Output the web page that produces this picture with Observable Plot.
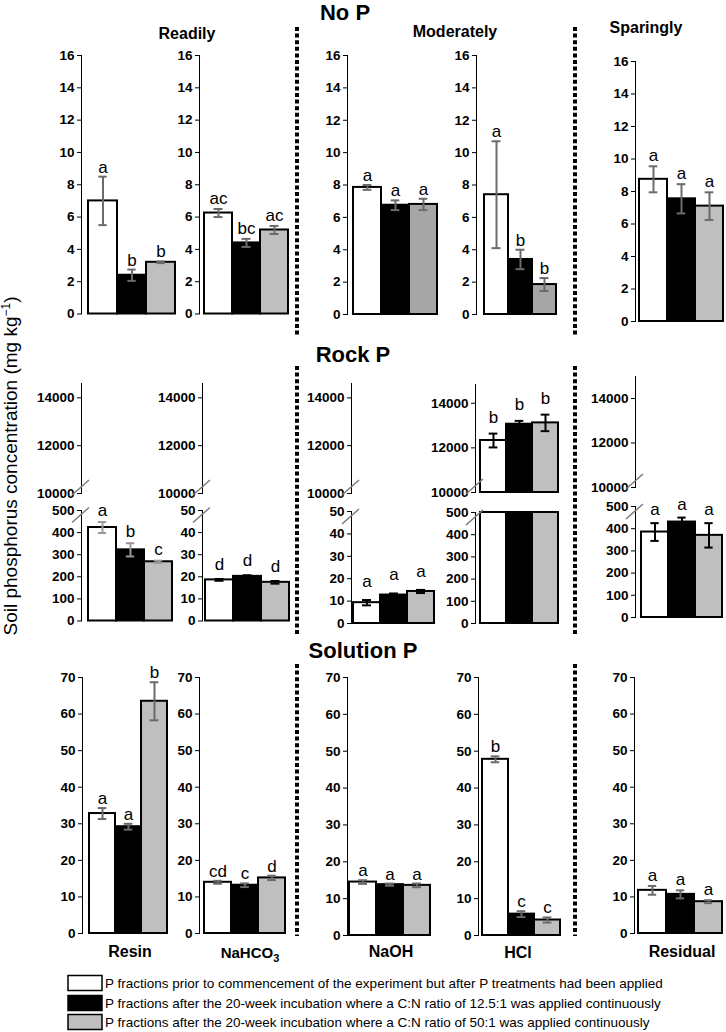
<!DOCTYPE html>
<html><head><meta charset="utf-8">
<script src="https://cdn.jsdelivr.net/npm/d3@7"></script>
<script src="https://cdn.jsdelivr.net/npm/@observablehq/plot@0.6"></script>
<style>
body{margin:0;background:#fff;}
#fig{position:relative;width:726px;height:1032px;overflow:hidden;background:#fff;}
#fig svg{position:absolute;overflow:visible;}
g[aria-label="y-axis tick label"]{font-weight:bold;}
</style></head><body><div id="fig"></div>
<script>
// ---------- data ----------
const treatments = ["Initial", "C:N 12.5:1", "C:N 50:1"];
const fractions = ["Resin", "NaHCO3", "NaOH", "HCl", "Residual"];
const rowTitles = ["No P", "Rock P", "Solution P"];
const groupTitles = ["Readily", "Moderately", "Sparingly"];
const legendLabels = [
  "P fractions prior to commencement of the experiment but after P treatments had been applied",
  "P fractions after the 20-week incubation where a C:N ratio of 12.5:1 was applied continuously",
  "P fractions after the 20-week incubation where a C:N ratio of 50:1 was applied continuously"
];
const yTitle = "Soil phosphorus concentration (mg kg";

const noPMeans = [[7.0, 2.4, 3.2], [6.25, 4.4, 5.2], [7.85, 6.75, 6.8], [7.4, 3.4, 1.85], [8.75, 7.55, 7.1]];
const noPErrors = [[1.5, 0.35, 0.05], [0.25, 0.25, 0.25], [0.15, 0.3, 0.35], [3.3, 0.6, 0.4], [0.8, 0.9, 0.85]];
const noPLetters = [["a", "b", "b"], ["ac", "bc", "ac"], ["a", "a", "a"], ["a", "b", "b"], ["a", "a", "a"]];

const rockPMeans = [[423, 322, 268], [18.6, 20.2, 17.5], [9.3, 12.7, 14.3], [12330, 13060, 13120], [385, 430, 370]];
const rockPErrors = [[25, 30, 5], [0.4, 0.5, 0.6], [1.2, 0.7, 0.7], [310, 150, 370], [40, 20, 55]];
const rockPLetters = [["a", "b", "c"], ["d", "d", "d"], ["a", "a", "a"], ["b", "b", "b"], ["a", "a", "a"]];

const solPMeans = [[32.8, 29.2, 63.5], [14.0, 13.2, 15.2], [14.5, 13.8, 13.6], [47.8, 5.8, 4.2], [11.8, 10.7, 8.7]];
const solPErrors = [[1.5, 0.8, 5.2], [0.4, 0.5, 0.6], [0.5, 0.3, 0.5], [0.8, 0.8, 0.7], [1.2, 1.1, 0.4]];
const solPLetters = [["a", "a", "b"], ["cd", "c", "d"], ["a", "a", "a"], ["b", "c", "c"], ["a", "a", "a"]];

const ticksNoP = [0, 2, 4, 6, 8, 10, 12, 14, 16];
const ticksSol = [0, 10, 20, 30, 40, 50, 60, 70];
const ticksRockUpper = [10000, 12000, 14000];
const ticksRock500 = [0, 100, 200, 300, 400, 500];
const ticksRock50 = [0, 10, 20, 30, 40, 50];

// ---------- rendering ----------
const FONT = '"Liberation Sans", Arial, Helvetica, sans-serif';
const fig = document.getElementById("fig");

function makeData(means, errs, letters) {
  return treatments.map((t, i) => ({t, v: means[i], e: errs[i], l: letters[i]}));
}

function panel(o) {
  const mL = 52, mT = 34, mB = 4, mR = 4;
  const width = mL + (o.barR - o.axisX) + mR;
  const height = mT + (o.y0 - o.yTop) + mB;
  const bw = (o.barR - o.barL) / 3;
  const capInset = Math.max(0, (bw - 9) / 2);
  const [lo, hi] = o.domain;
  const barsData = o.data.filter(d => d.v > lo).map(d => ({...d, top: Math.min(d.v, hi)}));
  const visible = o.data.filter(d => d.v > lo && d.v <= hi);
  const marks = [
    Plot.barY(barsData, {x: "t", y1: lo, y2: "top", fill: "t", stroke: "#000", strokeWidth: 2})
  ];
  if (visible.length) {
    marks.push(
      Plot.ruleX(visible, {x: "t", y1: d => d.v - d.e, y2: d => d.v + d.e, stroke: o.errColor, strokeWidth: 2}),
      Plot.tickY(visible, {x: "t", y: d => d.v + d.e, stroke: o.errColor, strokeWidth: 2, insetLeft: capInset, insetRight: capInset}),
      Plot.tickY(visible, {x: "t", y: d => d.v - d.e, stroke: o.errColor, strokeWidth: 2, insetLeft: capInset, insetRight: capInset}),
      Plot.text(visible, {x: "t", y: d => d.v + d.e, text: "l", lineAnchor: "bottom", dy: -o.gap, fontSize: 17, fill: "#000"})
    );
  }
  const svg = Plot.plot({
    width, height, marginLeft: mL, marginRight: mR, marginTop: mT, marginBottom: mB,
    style: {fontFamily: FONT, fontSize: "13.5px", color: "#000", background: "transparent", overflow: "visible"},
    x: {type: "band", domain: treatments, padding: 0, insetLeft: o.barL - o.axisX, axis: null},
    y: {domain: o.domain, ticks: o.ticks, tickFormat: d => String(d), tickSize: 4, tickPadding: 3, line: true, label: null},
    color: {domain: treatments, range: o.fills},
    marks
  });
  svg.style.left = (o.axisX - mL) + "px";
  svg.style.top = (o.yTop - mT) + "px";
  fig.appendChild(svg);
}

const fillsStd = ["#ffffff", "#000000", "#bfbfbf"];
const fillsDark = ["#ffffff", "#000000", "#a6a6a6"];

// Row 1: No P
const row1Geo = [
  {axisX: 81, barL: 87, barR: 176, y0: 313.5, yTop: 55, gap: 4},
  {axisX: 199, barL: 204, barR: 288, y0: 313.5, yTop: 55, gap: 5},
  {axisX: 347, barL: 352, barR: 437, y0: 314, yTop: 55, gap: 4, dark: true},
  {axisX: 476, barL: 484, barR: 556, y0: 314, yTop: 55, gap: 4, dark: true},
  {axisX: 635, barL: 638, barR: 723, y0: 321, yTop: 61, gap: 5}
];
row1Geo.forEach((g, i) => panel({
  ...g, data: makeData(noPMeans[i], noPErrors[i], noPLetters[i]),
  domain: [0, 16], ticks: ticksNoP, errColor: "#6b6b6b", fills: g.dark ? fillsDark : fillsStd
}));

// Row 2: Rock P (broken axes)
const row2Geo = [
  {axisX: 81, barL: 87, barR: 173, upTop: 383, upBot: 493, upMax: 14600, lowTop: 509.5, low0: 620, lowMax: 500, gap: 6, err: "#9a9a9a"},
  {axisX: 202, barL: 205, barR: 289, upTop: 383, upBot: 493, upMax: 14600, lowTop: 509.5, low0: 620, lowMax: 50, gap: 9, err: "#000"},
  {axisX: 351, barL: 353, barR: 434, upTop: 383, upBot: 493, upMax: 14600, lowTop: 511, low0: 623, lowMax: 50, gap: 13, err: "#000"},
  {axisX: 475, barL: 479, barR: 558, upTop: 384, upBot: 492, upMax: 14840, lowTop: 512, low0: 623, lowMax: 500, gap: 11, err: "#000"},
  {axisX: 635, barL: 640, barR: 723, upTop: 376, upBot: 487, upMax: 14990, lowTop: 506, low0: 617, lowMax: 500, gap: 8, err: "#000"}
];
row2Geo.forEach((g, i) => {
  const data = makeData(rockPMeans[i], rockPErrors[i], rockPLetters[i]);
  panel({axisX: g.axisX, barL: g.barL, barR: g.barR, y0: g.upBot, yTop: g.upTop, gap: g.gap, data,
    domain: [10000, g.upMax], ticks: ticksRockUpper, errColor: g.err, fills: fillsStd});
  panel({axisX: g.axisX, barL: g.barL, barR: g.barR, y0: g.low0, yTop: g.lowTop, gap: g.gap, data,
    domain: [0, g.lowMax], ticks: g.lowMax === 500 ? ticksRock500 : ticksRock50, errColor: g.err, fills: fillsStd});
});

// Row 3: Solution P
const row3Geo = [
  {axisX: 82, barL: 88, barR: 167, y0: 933, yTop: 677, gap: 4},
  {axisX: 199, barL: 203, barR: 285, y0: 933, yTop: 677, gap: 4},
  {axisX: 347, barL: 349, barR: 430, y0: 935, yTop: 677, gap: 4},
  {axisX: 478, barL: 481, barR: 560, y0: 935, yTop: 677, gap: 4},
  {axisX: 634, barL: 637, barR: 723, y0: 933, yTop: 677, gap: 5}
];
row3Geo.forEach((g, i) => panel({
  ...g, data: makeData(solPMeans[i], solPErrors[i], solPLetters[i]),
  domain: [0, 70], ticks: ticksSol, errColor: "#6b6b6b", fills: fillsStd
}));

// ---------- overlay: titles, separators, breaks, labels, legend ----------
const ov = d3.create("svg").attr("width", 726).attr("height", 1032)
  .style("left", "0px").style("top", "0px").style("font-family", FONT);

// dotted separators
[297, 575].forEach(x => {
  [[27, 337], [366, 636], [664, 936]].forEach(([a, b]) => {
    ov.append("line").attr("x1", x).attr("x2", x).attr("y1", a).attr("y2", b)
      .attr("stroke", "#000").attr("stroke-width", 4).attr("stroke-dasharray", "4 2.6");
  });
});

// axis break slashes
row2Geo.forEach(g => {
  ov.append("line").attr("x1", g.axisX - 9).attr("y1", g.upBot + 2).attr("x2", g.axisX + 8).attr("y2", g.upBot - 13)
    .attr("stroke", "#7a7a7a").attr("stroke-width", 1.5);
  ov.append("line").attr("x1", g.axisX - 9).attr("y1", g.lowTop + 13).attr("x2", g.axisX + 8).attr("y2", g.lowTop - 2)
    .attr("stroke", "#7a7a7a").attr("stroke-width", 1.5);
});

// row titles
[[345, 20], [353, 362], [363, 658]].forEach(([x, y], i) => {
  ov.append("text").attr("x", x).attr("y", y).attr("text-anchor", "middle")
    .attr("font-size", 22).attr("font-weight", "bold").text(rowTitles[i]);
});
// group titles
[[187, 39], [455, 37], [646, 33]].forEach(([x, y], i) => {
  ov.append("text").attr("x", x).attr("y", y).attr("text-anchor", "middle")
    .attr("font-size", 16).attr("font-weight", "bold").text(groupTitles[i]);
});
// fraction labels
[[130, 957], [250, 958], [391, 957], [518, 958], [682, 957]].forEach(([x, y], i) => {
  const t = ov.append("text").attr("x", x).attr("y", y).attr("text-anchor", "middle")
    .attr("font-size", 16).attr("font-weight", "bold");
  if (fractions[i] === "NaHCO3") {
    t.attr("font-size", 15).text("NaHCO");
    t.append("tspan").attr("font-size", 11).attr("dy", 4).text("3");
  } else t.text(fractions[i]);
});
// y title
const yt = ov.append("text").attr("transform", "translate(17,466) rotate(-90)").attr("text-anchor", "middle")
  .attr("font-size", 19).text(yTitle);
yt.append("tspan").attr("font-size", 12).attr("dy", -7).text("\u22121");
yt.append("tspan").attr("dy", 7).text(")");

// legend
legendLabels.forEach((lab, i) => {
  const y = [983, 1003, 1022][i];
  ov.append("rect").attr("x", 68).attr("y", y - 7.5).attr("width", 34).attr("height", 15)
    .attr("fill", fillsStd[i]).attr("stroke", "#000").attr("stroke-width", 1.5);
  ov.append("text").attr("x", 105).attr("y", y + 5).attr("font-size", 13.5).text(lab);
});

fig.appendChild(ov.node());
</script></body></html>
